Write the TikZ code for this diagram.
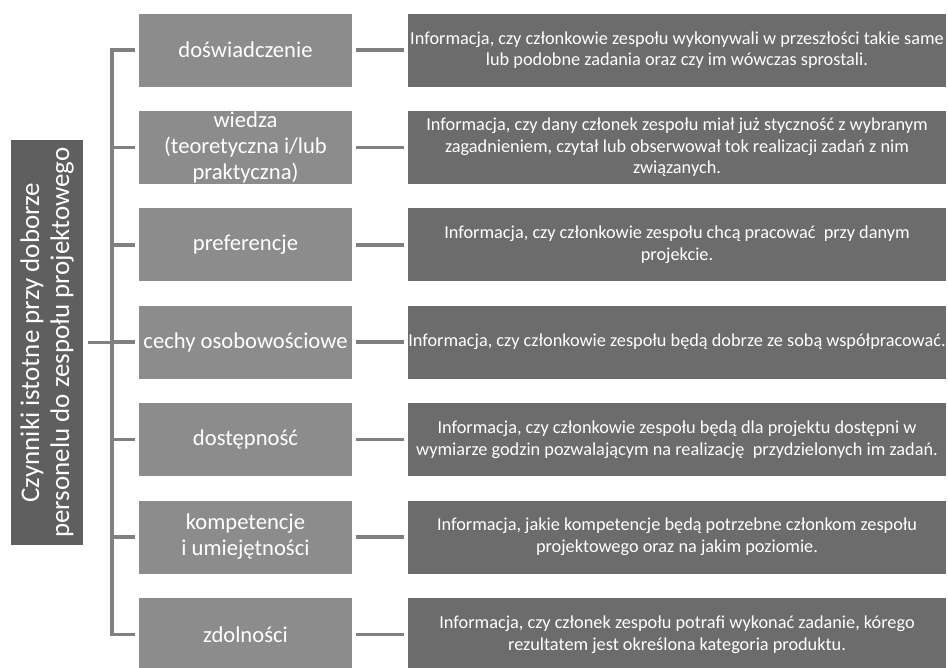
\documentclass[tikz,border=0pt]{standalone}
\usepackage{fontspec}
\setmainfont{Carlito}
\usetikzlibrary{calc}
\definecolor{factorgray}{HTML}{8C8C8C}
\definecolor{infogray}{HTML}{6C6C6C}
\definecolor{rootgray}{HTML}{5F5F5F}
\definecolor{linegray}{HTML}{808080}

\begin{document}
\begin{tikzpicture}[x=0.03cm, y=-0.03cm, every node/.style={text=white},
  factorbox/.style={fill=factorgray, minimum width=6.39cm, minimum height=2.19cm,
    inner sep=0pt, align=center, font=\fontsize{19.3}{22.2}\selectfont},
  infobox/.style={fill=infogray, minimum width=16.14cm, minimum height=2.19cm,
    inner sep=0pt, align=center, font=\fontsize{15.6}{18.5}\selectfont},
  wire/.style={draw=linegray, line width=3pt},
  link/.style={wire, shorten <=0.12cm, shorten >=0.12cm}]
  \useasboundingbox (0,0) rectangle (948,667);

  % Root of the tree, set on its side at the left margin.
  \node[fill=rootgray, rotate=90, minimum width=12.15cm, minimum height=2.16cm,
    inner sep=0pt, align=center, font=\fontsize{23}{25.6}\selectfont]
    (root) at (47,342.5) {Czynniki istotne przy doborze\\personelu do zespołu projektowego};

  % The seven factors in the middle column.
  \node[factorbox] (f1) at (245.5,50) {doświadczenie};
  \node[factorbox] (f2) at (245.5,147.4) {wiedza\\(teoretyczna i/lub\\praktyczna)};
  \node[factorbox] (f3) at (245.5,244.8) {preferencje};
  \node[factorbox] (f4) at (245.5,342.2) {cechy osobowościowe};
  \node[factorbox] (f5) at (245.5,439.6) {dostępność};
  \node[factorbox] (f6) at (245.5,537) {kompetencje\\i umiejętności};
  \node[factorbox] (f7) at (245.5,634.4) {zdolności};

  % What each factor tells, in the wide right column.
  \node[infobox] (i1) at (677,50) {Informacja, czy członkowie zespołu wykonywali w przeszłości takie same\\lub podobne zadania oraz czy im wówczas sprostali.};
  \node[infobox] (i2) at (677,147.4) {Informacja, czy dany członek zespołu miał już styczność z wybranym\\zagadnieniem, czytał lub obserwował tok realizacji zadań z nim\\związanych.};
  \node[infobox] (i3) at (677,244.8) {Informacja, czy członkowie zespołu chcą pracować\ \ przy danym\\projekcie.};
  \node[infobox] (i4) at (677,342.2) {Informacja, czy członkowie zespołu będą dobrze ze sobą współpracować.};
  \node[infobox] (i5) at (677,439.6) {Informacja, czy członkowie zespołu będą dla projektu dostępni w\\wymiarze godzin pozwalającym na realizację\ \ przydzielonych im zadań.};
  \node[infobox] (i6) at (677,537) {Informacja, jakie kompetencje będą potrzebne członkom zespołu\\projektowego oraz na jakim poziomie.};
  \node[infobox] (i7) at (677,634.4) {Informacja, czy członek zespołu potrafi wykonać zadanie, kórego\\rezultatem jest określona kategoria produktu.};

  % Bracket joining the root to the factors.
  \coordinate (trunk) at (112,342.2);
  \draw[wire] ($(f1.west)+(-4,0)$) -- (f1.west -| trunk) -- (f7.west -| trunk) -- ($(f7.west)+(-4,0)$);
  \draw[wire] ($(f2.west)+(-4,0)$) -- (f2.west -| trunk);
  \draw[wire] ($(f3.west)+(-4,0)$) -- (f3.west -| trunk);
  \draw[wire] ($(f4.west)+(-4,0)$) -- (f4.west -| trunk);
  \draw[wire] ($(f5.west)+(-4,0)$) -- (f5.west -| trunk);
  \draw[wire] ($(f6.west)+(-4,0)$) -- (f6.west -| trunk);
  \draw[wire] ($(root.south)+(5,0)$) -- (root.south -| trunk);

  % Short links from each factor to its description.
  \draw[link] (f1) -- (i1);
  \draw[link] (f2) -- (i2);
  \draw[link] (f3) -- (i3);
  \draw[link] (f4) -- (i4);
  \draw[link] (f5) -- (i5);
  \draw[link] (f6) -- (i6);
  \draw[link] (f7) -- (i7);
\end{tikzpicture}
\end{document}
